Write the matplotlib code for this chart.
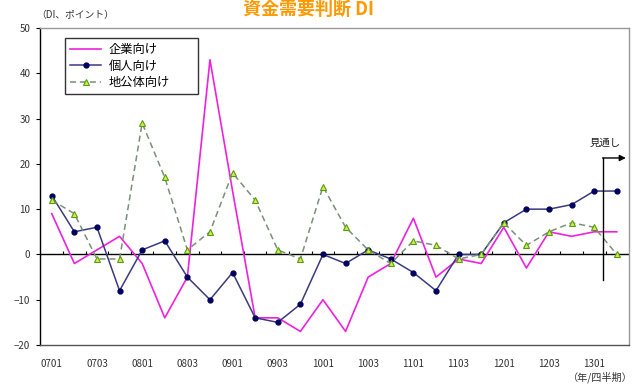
import numpy as np
import matplotlib
matplotlib.use("Agg")
import matplotlib.pyplot as plt

plt.rcParams['font.family'] = ['Noto Sans CJK JP', 'DejaVu Sans']

# 四半期 (07/1Q - 13/2Q)
quarters = ['0701', '0702', '0703', '0704', '0801', '0802', '0803', '0804',
            '0901', '0902', '0903', '0904', '1001', '1002', '1003', '1004',
            '1101', '1102', '1103', '1104', '1201', '1202', '1203', '1204',
            '1301', '1302']
tick_labels = ['0701', '0703', '0801', '0803', '0901', '0903', '1001',
               '1003', '1101', '1103', '1201', '1203', '1301']

corp = [9, -2, 1, 4, -2, -14, -5, 43, 14, -14, -14, -17, -10, -17, -5, -2,
        8, -5, -1, -2, 6, -3, 5, 4, 5, 5]
indiv = [13, 5, 6, -8, 1, 3, -5, -10, -4, -14, -15, -11, 0, -2, 1, -1,
         -4, -8, 0, 0, 7, 10, 10, 11, 14, 14]
local = [12, 9, -1, -1, 29, 17, 1, 5, 18, 12, 1, -1, 15, 6, 1, -2,
         3, 2, -1, 0, 7, 2, 5, 7, 6, 0]

x = np.arange(len(quarters))

fig = plt.figure(figsize=(6.33, 3.88), dpi=100)
ax = fig.add_axes([0.0632, 0.1108, 0.9305, 0.817])

ax.plot(x, corp, color='#ee22dd', lw=1.2, label='企業向け', zorder=3)
ax.plot(x, indiv, color='#3a3a80', lw=1.1, marker='o', ms=3.5,
        mfc='#000060', mec='#000060', label='個人向け', zorder=4)
ax.plot(x, local, color='#7a907a', lw=1.1, ls=(0, (4, 2.5)), marker='^',
        ms=4.5, mfc='#ccee55', mec='#5a9a10', mew=0.8, label='地公体向け',
        zorder=5)

# 0 ライン と 四半期の目盛り
ax.axhline(0, color='black', lw=1.0, zorder=2)
ax.vlines(x[:-1] + 0.5, 0, 0.8, color='black', lw=0.8, zorder=2)

ax.set_xlim(-0.52, len(quarters) - 0.46)
ax.set_ylim(-20, 50)
ax.set_yticks(range(-20, 51, 10))
ax.set_xticks(x[::2])
ax.set_xticklabels(tick_labels)
ax.tick_params(axis='x', length=0, pad=10, labelsize=7, colors='#333333')
ax.tick_params(axis='y', direction='out', length=3, width=0.8, pad=4,
               labelsize=7, colors='black', labelcolor='#333333')

ax.spines['left'].set_color('black')
ax.spines['bottom'].set_color('#555555')
ax.spines['top'].set_color('#999999')
ax.spines['right'].set_color('#999999')
for s in ax.spines.values():
    s.set_linewidth(1.0)

# 見通し
fc_x = len(quarters) - 1.6
ax.plot([fc_x, fc_x], [-5.6, 21.3], color='black', lw=1.0, zorder=6)
ax.annotate('', xy=(fc_x + 1.0, 21.3), xytext=(fc_x - 0.03, 21.3),
            arrowprops=dict(arrowstyle='-|>', color='black', lw=1.0,
                            mutation_scale=9, shrinkA=0, shrinkB=0))
ax.text(fc_x + 0.1, 23.5, '見通し', ha='center', va='bottom', fontsize=7.5,
        color='#222222')

leg = ax.legend(loc='upper left', bbox_to_anchor=(0.042, 0.968, 0.226, 0.0),
                mode='expand', fontsize=8.8, frameon=True, fancybox=False,
                edgecolor='black', handlelength=2.6, borderpad=0.4,
                labelspacing=0.3, handletextpad=0.6, borderaxespad=0)
leg.get_frame().set_linewidth(1.0)

fig.text(0.058, 0.96, '（DI、ポイント）', ha='left', va='center', fontsize=7,
         color='#333333')
fig.text(0.999, 0.012, '（年/四半期）', ha='right', va='bottom', fontsize=7.3,
         color='#333333')
fig.text(0.487, 0.999, '資金需要判断 DI', ha='center', va='top',
         fontsize=13, fontweight='bold', color='#ff9900')

fig.savefig('out.png', dpi=100)
